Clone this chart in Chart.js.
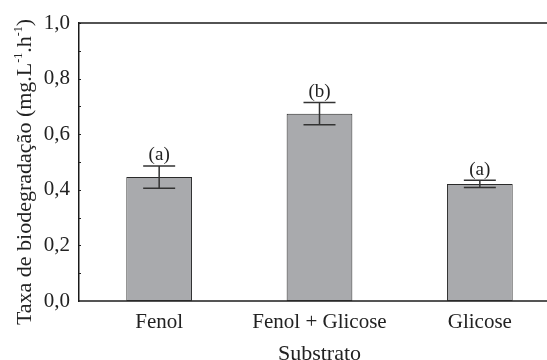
<!DOCTYPE html>
<html><head><meta charset="utf-8">
<script src="https://cdn.jsdelivr.net/npm/chart.js@4/dist/chart.umd.min.js"></script>
<style>html,body{margin:0;padding:0;background:#fff;overflow:hidden;width:547px;height:360px}canvas{display:block}</style>
</head><body>
<canvas id="c" width="560" height="360"></canvas>
<script>
const categories = ["Fenol", "Fenol + Glicose", "Glicose"];
const rates = [0.446, 0.674, 0.421];
const errors = [0.040, 0.040, 0.013];
const groupLetters = ["(a)", "(b)", "(a)"];
const yTickLabels = {0:"0,0",0.2:"0,2",0.4:"0,4",0.6:"0,6",0.8:"0,8",1:"1,0"};

const FONT = "'Liberation Serif', 'Times New Roman', serif";

const extras = {
  id: 'extras',
  afterDatasetsDraw(chart) {
    const {ctx, scales:{x, y}, chartArea:a} = chart;
    ctx.save();
    ctx.strokeStyle = '#222'; ctx.lineWidth = 1;
    for (let v = 0.1; v < 1.0; v += 0.1) {
      const py = Math.round(y.getPixelForValue(v)) + 0.5;
      ctx.beginPath(); ctx.moveTo(a.left, py); ctx.lineTo(a.left + 2, py); ctx.stroke();
    }
    ctx.strokeStyle = '#1a1a1a'; ctx.lineWidth = 1.5;
    ctx.beginPath(); ctx.moveTo(a.left, a.top); ctx.lineTo(a.right, a.top); ctx.stroke();
    ctx.strokeStyle = '#333'; ctx.lineWidth = 1.5;
    rates.forEach((v, i) => {
      const cx = x.getPixelForValue(i);
      const t = y.getPixelForValue(v + errors[i]);
      const b = y.getPixelForValue(v - errors[i]);
      ctx.beginPath();
      ctx.moveTo(cx, t); ctx.lineTo(cx, b);
      ctx.moveTo(cx - 16, t); ctx.lineTo(cx + 16, t);
      ctx.moveTo(cx - 16, b); ctx.lineTo(cx + 16, b);
      ctx.stroke();
      ctx.fillStyle = '#222';
      ctx.font = '19px ' + FONT;
      ctx.textAlign = 'center'; ctx.textBaseline = 'bottom';
      ctx.fillText(groupLetters[i], cx, t - 1);
    });
    ctx.translate(31, 172);
    ctx.rotate(-Math.PI / 2);
    const parts = [["Taxa de biodegradação (mg.L", 0], ["-1", 1], [".h", 0], ["-1", 1], [")", 0]];
    const big = '22px ' + FONT, small = '12px ' + FONT;
    let total = 0;
    parts.forEach(p => { ctx.font = p[1] ? small : big; total += ctx.measureText(p[0]).width; });
    let px = -total / 2;
    ctx.textAlign = 'left'; ctx.textBaseline = 'alphabetic'; ctx.fillStyle = '#222';
    parts.forEach(p => {
      ctx.font = p[1] ? small : big;
      ctx.fillText(p[0], px, p[1] ? -9 : 0);
      px += ctx.measureText(p[0]).width;
    });
    ctx.restore();
  }
};

new Chart(document.getElementById('c'), {
  type: 'bar',
  data: {
    labels: categories,
    datasets: [{
      data: rates,
      backgroundColor: '#a9aaad',
      borderColor: '#2a2a2a',
      borderWidth: 1,
      borderSkipped: false,
      barPercentage: 0.41,
      categoryPercentage: 1
    }]
  },
  options: {
    responsive: false,
    animation: false,
    devicePixelRatio: 1,
    layout: { padding: { left: 0, right: 0, top: 23, bottom: 0 } },
    plugins: { legend: { display: false }, tooltip: { enabled: false } },
    scales: {
      x: {
        grid: { display: false, drawTicks: false },
        border: { display: true, color: '#555', width: 2 },
        ticks: { color: '#222', font: { family: FONT, size: 21 }, padding: 9, maxRotation: 0 },
        title: { display: true, text: 'Substrato', color: '#222', font: { family: FONT, size: 22 }, padding: { top: 0, bottom: -7 } },
        afterFit(s) { s.height = 59; }
      },
      y: {
        min: 0, max: 1,
        grid: { display: false, drawTicks: false },
        border: { display: true, color: '#1a1a1a', width: 1.5 },
        ticks: {
          stepSize: 0.2, color: '#222', font: { family: FONT, size: 21 }, padding: 9,
          callback: v => yTickLabels[Math.round(v * 10) / 10]
        },
        afterFit(s) { s.width = 79; }
      }
    }
  },
  plugins: [extras]
});
</script>
</body></html>
